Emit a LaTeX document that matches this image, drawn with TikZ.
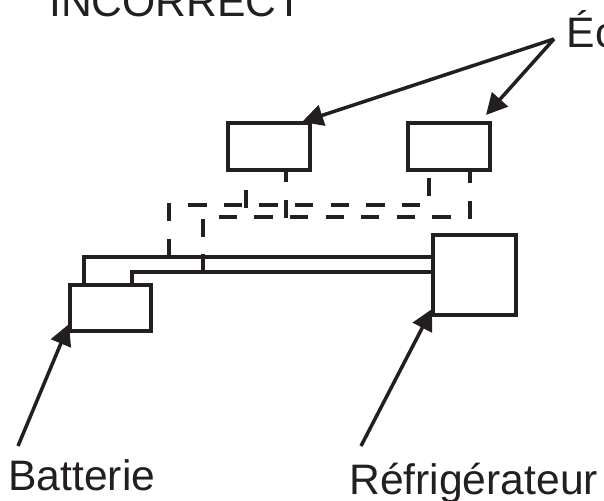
\documentclass[tikz,border=0pt]{standalone}
\usepackage{fontspec}
\setmainfont{Liberation Sans}
\usetikzlibrary{arrows.meta}
\definecolor{encre}{HTML}{231F20}
\tikzset{
  boite/.style={rectangle, draw=encre, line width=2.7pt, inner sep=0pt, outer sep=0pt},
  fil/.style={draw=encre, line width=2.6pt},
  pointille/.style={draw=encre, line width=2.6pt, dash pattern=on 15.6pt off 14.8pt},
  fleche/.style={draw=encre, line width=3pt, -{Triangle[length=18pt,width=18pt]}},
  etiquette/.style={text=encre, font=\fontsize{36.4pt}{36.4pt}\selectfont, anchor=base west, inner sep=0pt}
}
\begin{document}
\begin{tikzpicture}[x=0.03cm, y=-0.03cm]
        \useasboundingbox (0,0) rectangle (604,501);

        \node[boite, minimum width=2.46cm, minimum height=1.41cm] (ecran-1) at(269,146.5){};
        \node[boite, minimum width=2.46cm, minimum height=1.41cm] (ecran-2) at(449,146.5){};
        \node[boite, minimum width=2.43cm, minimum height=1.38cm] (batterie) at(110.5,308){};
        \node[boite, minimum width=2.49cm, minimum height=2.40cm] (frigo) at(474.5,275){};

        \node[etiquette] (incorrect) at(49,16){INCORRECT};
        \node[etiquette] (ecrans) at(566.5,47){Éc};
        \node[etiquette] (batterie-txt) at(8,490){Batterie};
        \node[etiquette] (frigo-txt) at(349,494){Réfrigérateur};

        % fils de la batterie
        \coordinate (haut-g) at(84,257);
        \coordinate (bas-g) at(132,272);
        \coordinate (pont-h) at(203,257);
        \coordinate (pont-b) at(203,272);
        \coordinate (depart) at(169,257);
        \draw[fil] (batterie.north -| haut-g) -- (haut-g) -- (haut-g -| frigo.west);
        \draw[fil] (batterie.north -| bas-g) -- (bas-g) -- (bas-g -| frigo.west);
        \draw[fil] (pont-h) -- (pont-b);

        % fils des ecrans
        \coordinate (rang-h) at(169,205);
        \coordinate (rang-b) at(203,217);
        \coordinate (coin-h) at(429,205);
        \coordinate (coin-b) at(470,217);
        \coordinate (ecran-1a) at(246,208);
        \coordinate (ecran-1b) at(286,218);
        \draw[pointille] (depart) -- (rang-h) -- (coin-h) -- (coin-h |- ecran-2.south);
        \draw[pointille, dash phase=13.3pt] (pont-h) -- (rang-b) -- (coin-b) -- (coin-b |- ecran-2.south);
        \draw[pointille] (ecran-1a) -- (ecran-1a |- ecran-1.south);
        \draw[pointille] (ecran-1b) -- (ecran-1b |- ecran-1.south);

        % fleches
        \coordinate (sommet) at(554,39);
        \coordinate (pointe-1) at(302,122);
        \coordinate (pointe-2) at(486,115);
        \coordinate (pointe-3) at(69,324);
        \coordinate (pointe-4) at(432,309);
        \coordinate (queue-3) at(18,446);
        \coordinate (queue-4) at(361,446);
        \draw[fleche] (sommet) -- (pointe-1);
        \draw[fleche] (sommet) -- (pointe-2);
        \draw[fleche] (queue-3) -- (pointe-3);
        \draw[fleche] (queue-4) -- (pointe-4);

      \end{tikzpicture}
\end{document}
